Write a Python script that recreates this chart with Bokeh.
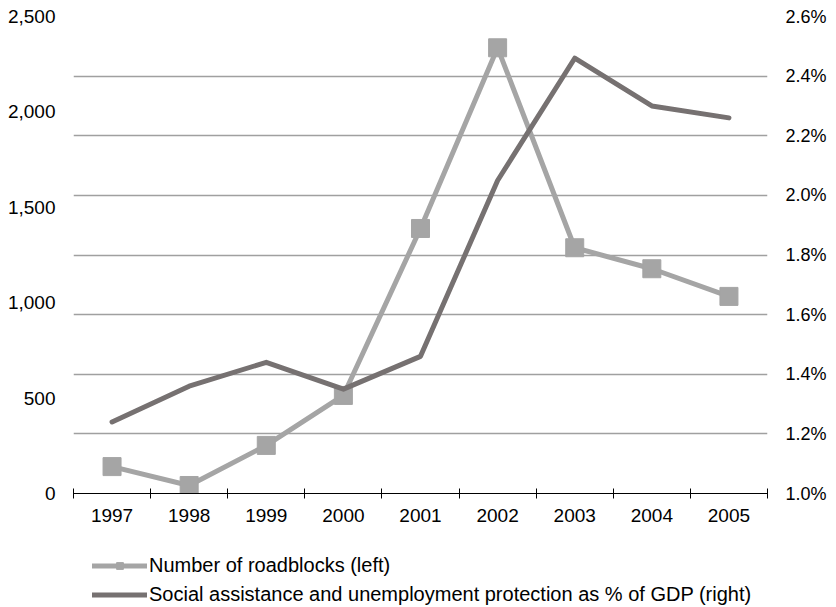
from bokeh.plotting import figure
from bokeh.layouts import column
from bokeh.models import (Range1d, LinearAxis, FixedTicker, Grid, Legend, LegendItem,
                          NumeralTickFormatter, CustomJSTickFormatter)
from bokeh.embed import file_html
from bokeh.resources import INLINE

years = ["1997", "1998", "1999", "2000", "2001", "2002", "2003", "2004", "2005"]
roadblocks = [141, 42, 252, 514, 1389, 2336, 1288, 1178, 1033]
social_pct = [1.24, 1.36, 1.44, 1.35, 1.46, 2.05, 2.46, 2.30, 2.26]

left_ticks = [0, 500, 1000, 1500, 2000, 2500]
right_ticks = [1.0, 1.2, 1.4, 1.6, 1.8, 2.0, 2.2, 2.4, 2.6]

series_labels = ["Number of roadblocks (left)",
                 "Social assistance and unemployment protection as % of GDP (right)"]

FONT = "Liberation Sans"
LIGHT = "#a5a5a5"
DARK = "#767171"

xs = [i + 0.5 for i in range(len(years))]

p = figure(width=836, height=540, output_backend="svg", toolbar_location=None,
           x_range=Range1d(0, len(years)), y_range=Range1d(0, 2500),
           min_border_left=73, min_border_right=69, min_border_top=16, min_border_bottom=47,
           x_axis_location=None, y_axis_location=None)
p.outline_line_color = None
p.xgrid.visible = False
p.ygrid.visible = False
p.extra_y_ranges = {"right": Range1d(1.0, 2.6)}

grid = Grid(dimension=1, ticker=FixedTicker(ticks=right_ticks), y_range_name="right",
            grid_line_color="#a0a0a0", grid_line_width=1.3)
p.add_layout(grid)

# x axis: labels at category centres, tick marks at boundaries (minor ticks)
xaxis = LinearAxis(ticker=FixedTicker(ticks=xs, minor_ticks=list(range(len(years) + 1))))
xaxis.major_label_overrides = {x: y for x, y in zip(xs, years)}
xaxis.major_tick_line_color = None
xaxis.major_tick_in = 0
xaxis.major_tick_out = 5
xaxis.minor_tick_in = 5
xaxis.minor_tick_out = 5
xaxis.minor_tick_line_color = "black"
xaxis.axis_line_color = "black"
xaxis.major_label_standoff = 10
xaxis.major_label_text_font = FONT
xaxis.major_label_text_font_size = "19px"
xaxis.major_label_text_color = "black"
p.add_layout(xaxis, "below")

laxis = LinearAxis(ticker=FixedTicker(ticks=left_ticks), formatter=NumeralTickFormatter(format="0,0"))
laxis.axis_line_color = None
laxis.major_tick_line_color = None
laxis.major_tick_in = 0
laxis.major_tick_out = 0
laxis.minor_tick_line_color = None
laxis.major_label_standoff = 18
laxis.major_label_text_font = FONT
laxis.major_label_text_font_size = "19px"
laxis.major_label_text_color = "black"
p.add_layout(laxis, "left")

raxis = LinearAxis(y_range_name="right", ticker=FixedTicker(ticks=right_ticks),
                   formatter=CustomJSTickFormatter(code="return tick.toFixed(1) + '%';"))
raxis.axis_line_color = None
raxis.major_tick_line_color = None
raxis.major_tick_in = 0
raxis.major_tick_out = 0
raxis.minor_tick_line_color = None
raxis.major_label_standoff = 18
raxis.major_label_text_font = FONT
raxis.major_label_text_font_size = "18px"
raxis.major_label_text_color = "black"
p.add_layout(raxis, "right")

p.line(xs, roadblocks, line_color=LIGHT, line_width=5, line_join="round", line_cap="round")
p.scatter(xs, roadblocks, marker="square", size=18, fill_color=LIGHT, line_color=LIGHT)
p.line(xs, social_pct, y_range_name="right", line_color=DARK, line_width=5,
       line_join="round", line_cap="round")

# legend strip below the chart (its series renderers lie outside its view range)
lf = figure(width=836, height=67, output_backend="svg", toolbar_location=None,
            x_range=Range1d(-200, -100), y_range=Range1d(-200, -100),
            min_border_left=0, min_border_right=0, min_border_top=0, min_border_bottom=0,
            x_axis_location=None, y_axis_location=None)
lf.outline_line_color = None
lf.xgrid.visible = False
lf.ygrid.visible = False
g1 = lf.line(xs, roadblocks, line_color=LIGHT, line_width=5, line_cap="round")
g1s = lf.scatter(xs, roadblocks, marker="square", size=18, fill_color=LIGHT, line_color=LIGHT)
g2 = lf.line(xs, social_pct, line_color=DARK, line_width=5, line_cap="round")

legend = Legend(items=[LegendItem(label=series_labels[0], renderers=[g1, g1s]),
                       LegendItem(label=series_labels[1], renderers=[g2])],
                location=(19, 1), orientation="vertical", glyph_width=55, glyph_height=17,
                label_height=17, label_standoff=2, spacing=6, padding=0, margin=0,
                border_line_alpha=0, background_fill_alpha=0,
                label_text_font=FONT, label_text_font_size="20px", label_text_color="black")
lf.add_layout(legend)

layout = column(p, lf, spacing=0)
open("out.html", "w").write(file_html(layout, INLINE))
